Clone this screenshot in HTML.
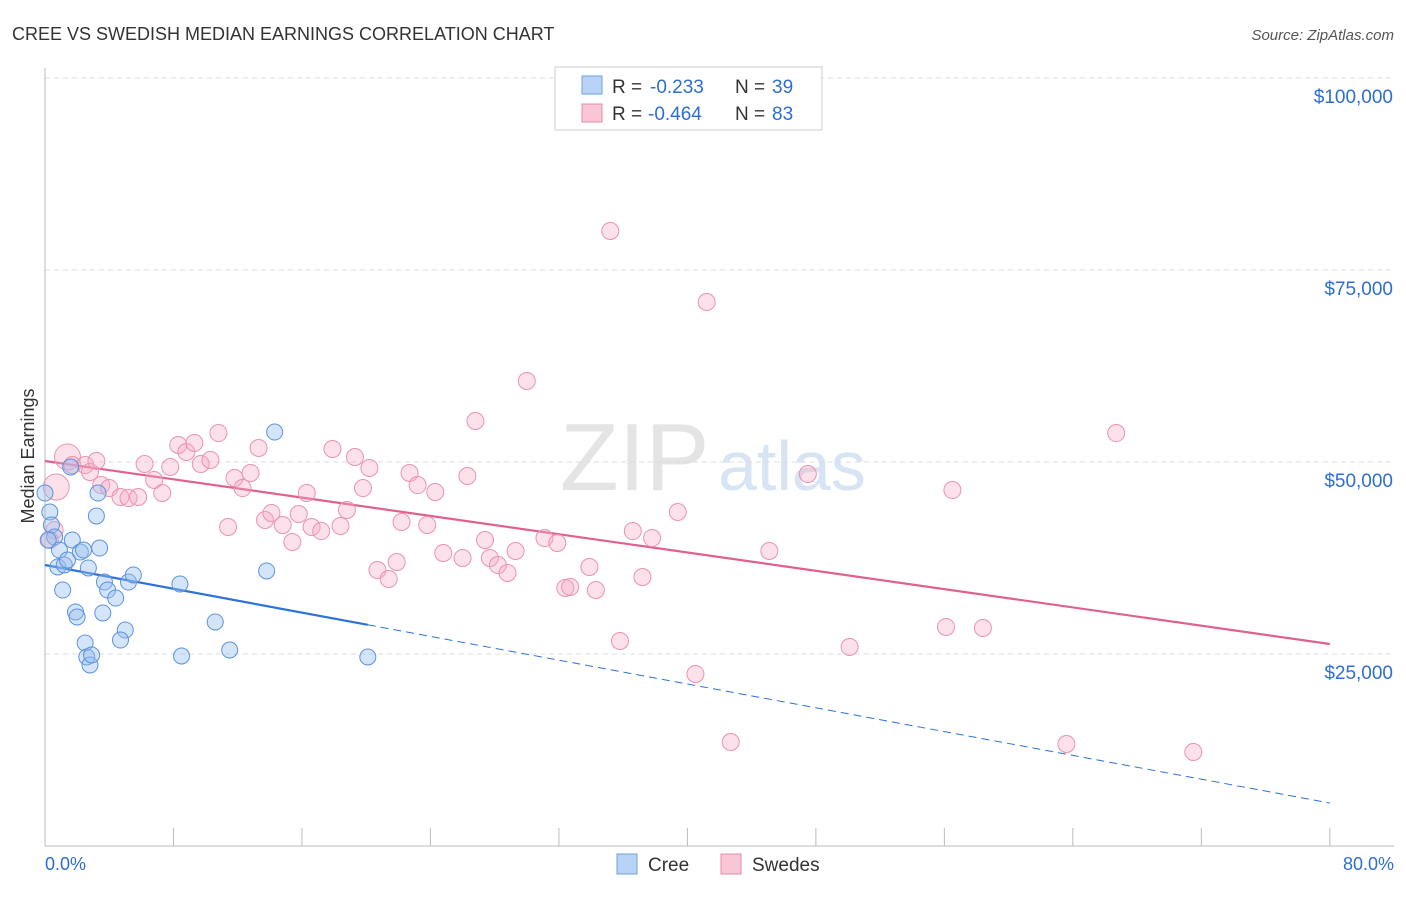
<!DOCTYPE html>
<html><head><meta charset="utf-8"><style>
body{margin:0;background:#fff;font-family:"Liberation Sans",sans-serif;}
svg text{font-family:"Liberation Sans",sans-serif;}
</style></head><body>
<svg id="c" width="1406" height="892">
<text x="12" y="40" font-size="18" fill="#333">CREE VS SWEDISH MEDIAN EARNINGS CORRELATION CHART</text>
<text x="1394" y="40" font-size="15" fill="#555" font-style="italic" text-anchor="end">Source: ZipAtlas.com</text>
<text x="560" y="490" font-size="96" fill="#e4e4e4" font-family="Liberation Serif">ZIP</text>
<text x="718" y="490" font-size="70" fill="#d7e4f3">atlas</text>
<text transform="translate(34,456) rotate(-90)" font-size="18" fill="#333" text-anchor="middle">Median Earnings</text>
<g id="grid"></g><g id="ticks"></g><g id="lines"></g><g id="pts"></g>
<g>
<rect x="555" y="67" width="267" height="63" fill="#fff" stroke="#ccc"/>
<rect x="582" y="76" width="20" height="18" fill="#b8d3f5" stroke="#6fa0e0"/>
<text x="612" y="93" font-size="19" fill="#333">R =</text>
<text x="650" y="93" font-size="19" fill="#2d6fd0">-0.233</text>
<text x="735" y="93" font-size="19" fill="#333">N =</text>
<text x="772" y="93" font-size="19" fill="#2d6fd0">39</text>
<rect x="582" y="104" width="20" height="18" fill="#f9c6d6" stroke="#e88aa8"/>
<text x="612" y="120" font-size="19" fill="#333">R =</text>
<text x="648" y="120" font-size="19" fill="#2d6fd0">-0.464</text>
<text x="735" y="120" font-size="19" fill="#333">N =</text>
<text x="772" y="120" font-size="19" fill="#2d6fd0">83</text>
</g>
<g>
<rect x="617" y="854" width="20" height="20" fill="#b8d3f5" stroke="#6fa0e0"/>
<text x="648" y="871" font-size="19" fill="#333">Cree</text>
<rect x="721" y="854" width="20" height="20" fill="#f9c6d6" stroke="#e88aa8"/>
<text x="752" y="871" font-size="19" fill="#333">Swedes</text>
</g>
<text x="45" y="870" font-size="18" fill="#2d6fd0">0.0%</text>
<text x="1394" y="870" font-size="18" fill="#2d6fd0" text-anchor="end">80.0%</text>
</svg>
<script>
const yTicks=[25000,50000,75000,100000];
const yTickLabels=["$25,000","$50,000","$75,000","$100,000"];
const xTicks=[0,8,16,24,32,40,48,56,64,72,80];
const creeX=[0.0,0.3,0.4,0.6,0.9,0.8,1.2,1.4,1.1,1.7,1.6,1.9,2.0,2.2,2.4,2.5,2.7,2.6,2.8,2.9,3.3,3.2,3.4,3.6,3.7,3.9,4.4,5.0,4.7,5.2,5.5,8.4,8.5,10.6,11.5,13.8,14.3,20.1,0.2];
const creeY=[45960,43490,41800,40230,38540,36330,36590,37240,33330,39840,49350,30470,29820,38280,38540,26430,36200,24610,23570,24870,45960,42970,38800,30340,34370,33330,32290,28120,26820,34370,35290,34110,24740,29170,25520,35810,53900,24610,39840];
const swX=[1.4,0.7,0.6,0.3,1.7,2.5,2.8,3.2,3.5,4.0,4.7,5.2,5.8,6.2,6.8,7.3,7.8,8.3,8.8,9.3,9.7,10.3,10.8,11.4,11.8,12.3,12.8,13.3,13.7,14.1,14.8,15.4,15.8,16.3,16.6,17.2,17.9,18.4,18.8,19.3,19.8,20.2,20.7,21.4,21.9,22.2,22.7,23.2,23.8,24.3,24.8,26.0,26.3,26.8,27.4,27.7,28.2,28.8,29.3,30.0,31.1,31.9,32.4,32.7,33.9,34.3,35.2,35.8,36.6,37.2,37.8,39.4,40.5,41.2,42.7,45.1,47.5,50.1,56.1,56.5,58.4,63.6,66.7,71.5];
const swY=[50650,46740,41150,39840,49610,49610,48700,50130,47000,46610,45440,45310,45440,49740,47660,45960,49350,52210,51300,52470,49740,50260,53770,41540,47920,46610,48570,51820,42450,43360,41800,39580,43230,45960,41540,41010,51690,41670,43750,50650,46610,49220,35940,34770,36980,42190,48570,47000,41800,46090,38150,37500,48180,55340,39840,37500,36590,35550,38410,60550,40100,39450,33590,33720,36330,33330,80080,26690,41010,35030,40100,43490,22400,70830,13540,38410,48440,25910,28520,46350,28390,13280,53770,12240];
const creeTrend=[36590,5600];
const creeSolidEnd=20.1;
const swTrend=[50130,26300];

const NS="http://www.w3.org/2000/svg";
const X=p=>45+p*16.06;
const Y=v=>654-(v-25000)*192/25000;
function mk(t,a,parent){const e=document.createElementNS(NS,t);for(const k in a)e.setAttribute(k,a[k]);document.getElementById(parent).appendChild(e);return e;}
yTicks.forEach((v,i)=>{
 const l=mk('line',{x1:45,x2:1394,y1:Y(v),y2:Y(v),stroke:'#ddd','stroke-dasharray':'5,4'},'grid');
 
 
 const t=mk('text',{x:1393,y:Y(v)+25,'font-size':19,fill:'#2d6fd0','text-anchor':'end'},'grid');
 t.textContent=yTickLabels[i];
 
 
});
const ya=mk('line',{x1:45,x2:45,y1:68,y2:846,stroke:'#bbb'},'ticks');


const xa=mk('line',{x1:45,x2:1394,y1:846,y2:846,stroke:'#bbb'},'ticks');


xTicks.forEach(p=>{
 const l=mk('line',{x1:X(p),x2:X(p),y1:828,y2:846,stroke:'#bbb'},'ticks');
 
 
});
const cv=p=>creeTrend[0]+(creeTrend[1]-creeTrend[0])*p/80;
let l1=mk('line',{x1:X(0),y1:Y(cv(0)),x2:X(creeSolidEnd),y2:Y(cv(creeSolidEnd)),stroke:'#2d72d9','stroke-width':2.2},'lines');


let l2=mk('line',{x1:X(creeSolidEnd),y1:Y(cv(creeSolidEnd)),x2:X(80),y2:Y(cv(80)),stroke:'#2d72d9','stroke-width':1,'stroke-dasharray':'8,5'},'lines');


let l3=mk('line',{x1:X(0),y1:Y(swTrend[0]),x2:X(80),y2:Y(swTrend[1]),stroke:'#e0608e','stroke-width':2.2},'lines');


swX.forEach((p,i)=>{
 const r=(i<2)?13:8.5;
 const c=mk('circle',{cx:X(p),cy:Y(swY[i]),r:r,fill:'rgba(245,170,195,0.35)',stroke:'#ea93b0','stroke-width':1},'pts');
 
 
});
creeX.forEach((p,i)=>{
 const c=mk('circle',{cx:X(p),cy:Y(creeY[i]),r:8,fill:'rgba(150,190,240,0.4)',stroke:'#5b93dc','stroke-width':1},'pts');
 
 
});
</script>
</body></html>
